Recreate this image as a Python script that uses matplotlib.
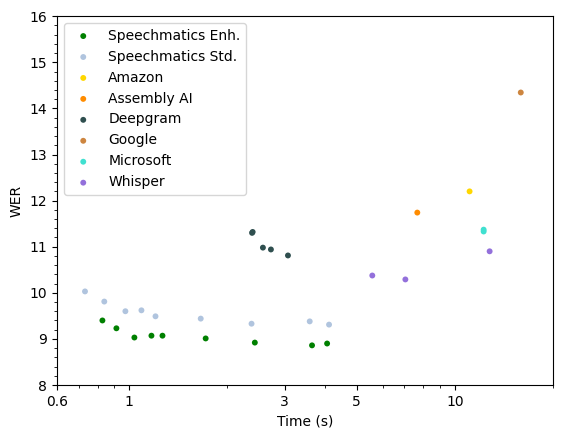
import matplotlib
matplotlib.use("Agg")
import matplotlib.pyplot as plt
from matplotlib.ticker import FixedLocator, FixedFormatter, LogLocator, NullFormatter, MultipleLocator

# Data
enh_time = [0.828, 0.914, 1.038, 1.171, 1.266, 1.718, 2.432, 3.644, 4.054]
enh_wer = [9.40, 9.23, 9.03, 9.07, 9.07, 9.01, 8.92, 8.86, 8.90]

std_time = [0.732, 0.839, 0.974, 1.091, 1.205, 1.659, 2.376, 3.585, 4.11]
std_wer = [10.03, 9.81, 9.60, 9.62, 9.49, 9.44, 9.33, 9.38, 9.31]

amazon_time = [11.1]
amazon_wer = [12.20]

assembly_time = [7.67]
assembly_wer = [11.74]

deepgram_time = [2.385, 2.395, 2.575, 2.725, 3.074]
deepgram_wer = [11.30, 11.32, 10.98, 10.94, 10.81]

google_time = [15.94]
google_wer = [14.345]

microsoft_time = [12.26, 12.26]
microsoft_wer = [11.33, 11.37]

whisper_time = [5.58, 7.05, 12.79]
whisper_wer = [10.375, 10.29, 10.90]

series = [
    ("Speechmatics Enh.", enh_time, enh_wer, "green"),
    ("Speechmatics Std.", std_time, std_wer, "lightsteelblue"),
    ("Amazon", amazon_time, amazon_wer, "gold"),
    ("Assembly AI", assembly_time, assembly_wer, "darkorange"),
    ("Deepgram", deepgram_time, deepgram_wer, "darkslategray"),
    ("Google", google_time, google_wer, "peru"),
    ("Microsoft", microsoft_time, microsoft_wer, "turquoise"),
    ("Whisper", whisper_time, whisper_wer, "mediumpurple"),
]

x_ticks = [0.6, 1, 3, 5, 10]
x_tick_labels = ["0.6", "1", "3", "5", "10"]

fig, ax = plt.subplots(figsize=(5.63, 4.38), dpi=100)
fig.subplots_adjust(left=0.101, right=0.982, top=0.963, bottom=0.121)

for name, t, w, c in series:
    ax.scatter(t, w, s=18, color=c, edgecolors="none", label=name)

ax.set_xscale("log")
ax.set_xlim(0.6, 20)
ax.set_ylim(8, 16)
ax.xaxis.set_major_locator(FixedLocator(x_ticks))
ax.xaxis.set_major_formatter(FixedFormatter(x_tick_labels))
ax.xaxis.set_minor_locator(LogLocator(base=10, subs=[2, 3, 4, 5, 6, 7, 8, 9], numticks=20))
ax.xaxis.set_minor_formatter(NullFormatter())
ax.yaxis.set_major_locator(MultipleLocator(1))
ax.yaxis.set_minor_locator(MultipleLocator(0.2))

ax.set_xlabel("Time (s)")
ax.set_ylabel("WER")
ax.legend(loc="upper left", markerscale=1.0)

fig.savefig("out.png", dpi=100)
